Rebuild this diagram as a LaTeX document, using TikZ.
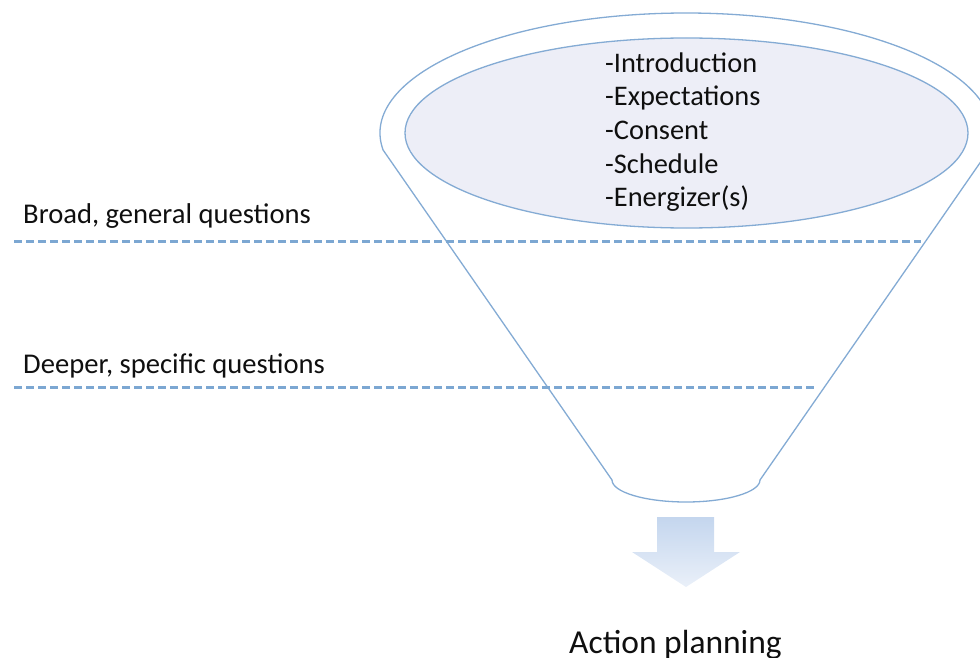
\documentclass[tikz,border=0pt]{standalone}
\usepackage{fontspec}
\setmainfont{Carlito}
\begin{document}
\begin{tikzpicture}[x=1pt,y=1pt,
  funnelline/.style={draw=funnelblue,line width=1.3pt},
  guide/.style={draw=dashblue,line width=3pt,dash pattern=on 8pt off 4pt},
  itemtext/.style={anchor=base west,inner sep=0pt,font=\fontsize{28.4}{33}\selectfont,text=inkblack},
  sidetext/.style={anchor=base west,inner sep=0pt,font=\fontsize{28.6}{33}\selectfont,text=inkblack}]
\definecolor{funnelblue}{RGB}{132,171,212}
\definecolor{dashblue}{RGB}{124,167,210}
\definecolor{innerfill}{RGB}{237,238,247}
\definecolor{inkblack}{RGB}{15,15,15}
\definecolor{arrowtop}{RGB}{196,214,238}
\definecolor{arrowbot}{RGB}{234,240,249}
\useasboundingbox (0,0) rectangle (980,-658);
\clip (0,0) rectangle (980,-658);

% funnel outline: top rim, sloping sides and rounded bottom
\path[funnelline,fill=white]
  (686,-133) ++(188.14:306 and 120)
  arc[start angle=188.14,end angle=-8.14,x radius=306,y radius=120]
  -- (760,-480)
  arc[start angle=0,end angle=-180,x radius=74,y radius=22]
  -- cycle;

% inner mouth of the funnel
\path[funnelline,fill=innerfill] (686.5,-133) ellipse[x radius=281.5,y radius=95];

% agenda items
\node[itemtext] (i1) at (605,-72.5) {-Introduction};
\node[itemtext] (i2) at (605,-106) {-Expectations};
\node[itemtext] (i3) at (605,-139.5) {-Consent};
\node[itemtext] (i4) at (605,-173) {-Schedule};
\node[itemtext] (i5) at (605,-206.5) {-Energizer(s)};

% question levels
\node[sidetext] (broad) at (23,-223) {Broad, general questions};
\node[sidetext] (deep) at (23,-373.5) {Deeper, specific questions};
\coordinate (b1) at (14,-241);
\coordinate (b2) at (921,-241);
\coordinate (d1) at (14,-387);
\coordinate (d2) at (815,-387);
\path[guide] (b1) -- (b2);
\path[guide] (d1) -- (d2);

% outcome arrow
\shade[top color=arrowtop,bottom color=arrowbot]
  (657,-517) -- (714,-517) -- (714,-552) -- (740,-552) -- (686,-587)
  -- (632,-552) -- (657,-552) -- cycle;

\node[anchor=base west,inner sep=0pt,font=\fontsize{33.5}{40}\selectfont,text=inkblack] (action) at (569,-653) {Action planning};
\end{tikzpicture}
\end{document}
